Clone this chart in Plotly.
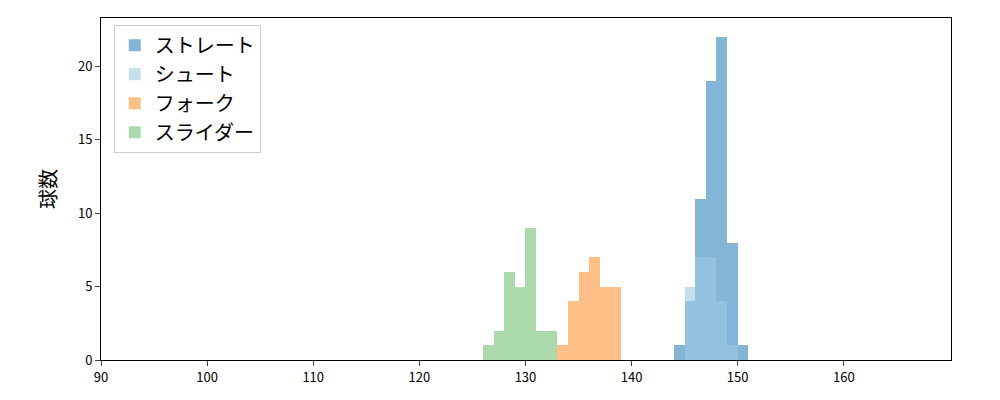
import plotly.graph_objects as go

straight_x = [144, 145, 146, 147, 148, 149, 150]
straight_y = [1, 4, 11, 19, 22, 8, 1]
shoot_x = [145, 146, 147, 148, 149]
shoot_y = [5, 7, 7, 4, 1]
fork_x = [133, 134, 135, 136, 137, 138]
fork_y = [1, 4, 6, 7, 5, 5]
slider_x = [126, 127, 128, 129, 130, 131, 132]
slider_y = [1, 2, 6, 5, 9, 2, 2]

series = [
    ("ストレート", straight_x, straight_y, "rgba(31,119,180,0.55)"),
    ("シュート", shoot_x, shoot_y, "rgba(158,202,225,0.6)"),
    ("フォーク", fork_x, fork_y, "rgba(255,127,14,0.5)"),
    ("スライダー", slider_x, slider_y, "rgba(44,160,44,0.4)"),
]

fig = go.Figure()
for name, xs, ys, c in series:
    fig.add_trace(go.Bar(x=xs, y=ys, name=name, width=1, offset=0,
                         marker=dict(color=c, line=dict(width=0))))

font = "Noto Sans CJK JP"
fig.update_layout(
    width=1000, height=400, barmode="overlay", bargap=0,
    plot_bgcolor="white", paper_bgcolor="white",
    margin=dict(l=93, r=57, t=10, b=48),
    font=dict(family=font, size=13, color="black"),
    legend=dict(x=0.015, y=0.98, xanchor="left", yanchor="top",
                bordercolor="#cccccc", borderwidth=1, font=dict(size=20),
                bgcolor="rgba(255,255,255,0.8)"),
    xaxis=dict(range=[90, 170.1], tickvals=list(range(90, 170, 10)),
               showgrid=False, showline=True, mirror=True, linecolor="black",
               ticks="outside", ticklen=5, zeroline=False),
    yaxis=dict(range=[0, 23.3], tickvals=[0, 5, 10, 15, 20],
               showgrid=False, showline=True, mirror=True, linecolor="black",
               ticks="outside", ticklen=5, zeroline=False,
               title=dict(text="球数", font=dict(size=20), standoff=15)),
)
fig.write_html("out.html")
